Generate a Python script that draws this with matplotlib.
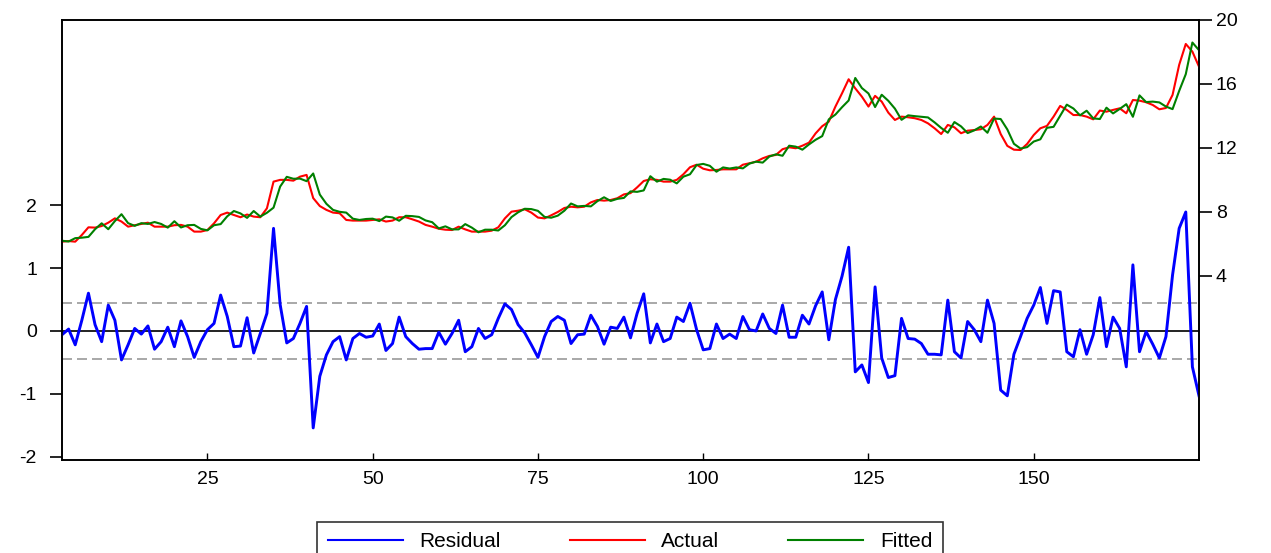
import numpy as np
import matplotlib
matplotlib.use("Agg")
import matplotlib.pyplot as plt
from matplotlib.lines import Line2D

plt.rcParams['font.family'] = ['Liberation Sans', 'DejaVu Sans']

# observations 3..175
obs = np.arange(3, 176)

residual = [
    -0.06, 0.03, -0.22, 0.17, 0.60, 0.10, -0.17, 0.41, 0.17, -0.46,
    -0.22, 0.04, -0.05, 0.08, -0.29, -0.17, 0.06, -0.25, 0.16, -0.09,
    -0.42, -0.17, 0.02, 0.12, 0.57, 0.23, -0.25, -0.24, 0.21, -0.35,
    -0.04, 0.28, 1.63, 0.42, -0.19, -0.12, 0.12, 0.39, -1.54, -0.72,
    -0.38, -0.17, -0.09, -0.46, -0.12, -0.04, -0.10, -0.08, 0.11, -0.31,
    -0.20, 0.22, -0.09, -0.20, -0.29, -0.28, -0.28, -0.02, -0.21, -0.04,
    0.17, -0.33, -0.25, 0.04, -0.12, -0.06, 0.20, 0.43, 0.34, 0.10,
    -0.03, -0.22, -0.42, -0.09, 0.15, 0.23, 0.17, -0.20, -0.06, -0.05,
    0.25, 0.07, -0.21, 0.06, 0.04, 0.22, -0.11, 0.28, 0.59, -0.19,
    0.11, -0.17, -0.12, 0.22, 0.15, 0.44, 0.02, -0.30, -0.28, 0.11,
    -0.12, -0.05, -0.12, 0.23, 0.02, 0.00, 0.27, 0.04, -0.04, 0.41,
    -0.10, -0.10, 0.25, 0.11, 0.40, 0.62, -0.14, 0.50, 0.87, 1.33,
    -0.65, -0.54, -0.82, 0.70, -0.43, -0.74, -0.71, 0.20, -0.12, -0.13,
    -0.20, -0.37, -0.37, -0.38, 0.49, -0.33, -0.43, 0.15, 0.02, -0.17,
    0.49, 0.12, -0.94, -1.03, -0.37, -0.09, 0.20, 0.41, 0.69, 0.12,
    0.64, 0.62, -0.33, -0.41, 0.02, -0.37, -0.06, 0.53, -0.25, 0.22,
    0.04, -0.57, 1.05, -0.33, -0.01, -0.21, -0.43, -0.09, 0.89, 1.63,
    1.89, -0.57, -1.03,
]

actual = [
    6.12, 6.16, 6.12, 6.54, 7.02, 7.00, 7.10, 7.31, 7.58, 7.38,
    7.06, 7.15, 7.23, 7.31, 7.06, 7.06, 7.06, 7.15, 7.17, 7.06,
    6.75, 6.75, 6.85, 7.27, 7.79, 7.94, 7.79, 7.65, 7.82, 7.69,
    7.65, 8.21, 9.88, 9.99, 9.99, 9.94, 10.19, 10.30, 8.85, 8.35,
    8.11, 7.94, 7.90, 7.48, 7.44, 7.44, 7.44, 7.48, 7.52, 7.38,
    7.44, 7.65, 7.65, 7.52, 7.38, 7.17, 7.06, 6.93, 6.87, 6.85,
    7.06, 6.89, 6.75, 6.75, 6.75, 6.81, 7.02, 7.58, 8.00, 8.06,
    8.15, 7.94, 7.63, 7.58, 7.77, 7.98, 8.23, 8.31, 8.27, 8.31,
    8.58, 8.73, 8.69, 8.73, 8.84, 9.08, 9.16, 9.52, 9.92, 10.03,
    9.99, 9.88, 9.88, 9.99, 10.34, 10.78, 10.94, 10.69, 10.59, 10.61,
    10.65, 10.65, 10.65, 10.94, 11.03, 11.13, 11.34, 11.49, 11.55, 11.91,
    12.03, 11.97, 12.13, 12.32, 12.90, 13.35, 13.64, 14.58, 15.41, 16.29,
    15.72, 15.20, 14.58, 15.25, 14.89, 14.20, 13.74, 13.95, 13.91, 13.85,
    13.74, 13.53, 13.22, 12.86, 13.43, 13.28, 12.91, 13.07, 13.11, 13.16,
    13.43, 13.95, 12.86, 12.12, 11.88, 11.86, 12.24, 12.80, 13.22, 13.37,
    13.95, 14.62, 14.37, 14.05, 14.05, 13.95, 13.78, 14.33, 14.26, 14.37,
    14.47, 14.16, 14.99, 14.95, 14.85, 14.68, 14.41, 14.49, 15.31, 17.19,
    18.50, 18.02, 17.08,
]

# standard error of regression (dashed band)
se_reg = 0.445

left_ticks = [-2, -1, 0, 1, 2]
right_ticks = [4, 8, 12, 16, 20]
x_ticks = [25, 50, 75, 100, 125, 150]

residual = np.array(residual)
actual = np.array(actual)
fitted = actual - residual

fig = plt.figure(figsize=(12.71, 5.53), dpi=100)
ax = fig.add_axes([62 / 1271, 1 - 460 / 553, 1137 / 1271, 440 / 553])
ax2 = ax.twinx()

ax.axhline(0, color='#222222', lw=1.4, zorder=1)
ax.axhline(se_reg, color='#999999', lw=1.2, ls=(0, (6, 3)), zorder=1)
ax.axhline(-se_reg, color='#999999', lw=1.2, ls=(0, (6, 3)), zorder=1)
ax.plot(obs, residual, color='#0000ff', lw=2.1, zorder=3)

ax2.plot(obs, actual, color='#ff0000', lw=1.5)
ax2.plot(obs, fitted, color='#008000', lw=1.5)

ax.set_xlim(3, 175)
ax.set_ylim(-2.05, 4.94)
ax2.set_ylim(-7.55, 20)

ax.set_yticks(left_ticks)
ax.set_yticklabels([str(v) for v in left_ticks])
ax2.set_yticks(right_ticks)
ax2.set_yticklabels([str(v) for v in right_ticks])
ax.set_xticks(x_ticks)

for a in (ax, ax2):
    for s in a.spines.values():
        s.set_color('black')
        s.set_linewidth(1.2)
ax.tick_params(axis='y', direction='out', length=9, width=1.2, pad=9, labelsize=14)
ax2.tick_params(axis='y', direction='out', length=9, width=1.2, pad=3, labelsize=14)
ax.tick_params(axis='x', direction='in', length=5, width=1.0, pad=8, labelsize=14)

handles = [Line2D([], [], color='#0000ff', lw=1.5),
           Line2D([], [], color='#ff0000', lw=1.5),
           Line2D([], [], color='#008000', lw=1.5)]
leg = fig.legend(handles, ['Residual', 'Actual', 'Fitted'], loc='upper center',
                 bbox_to_anchor=(630 / 1271, 1 - 522 / 553), borderaxespad=0,
                 ncol=3, fontsize=15, frameon=True, fancybox=False,
                 handlelength=3.6, handletextpad=0.8, columnspacing=3.3,
                 borderpad=0.5)
leg.get_frame().set_edgecolor('black')
leg.get_frame().set_linewidth(1.2)

fig.savefig('out.png', dpi=100)
